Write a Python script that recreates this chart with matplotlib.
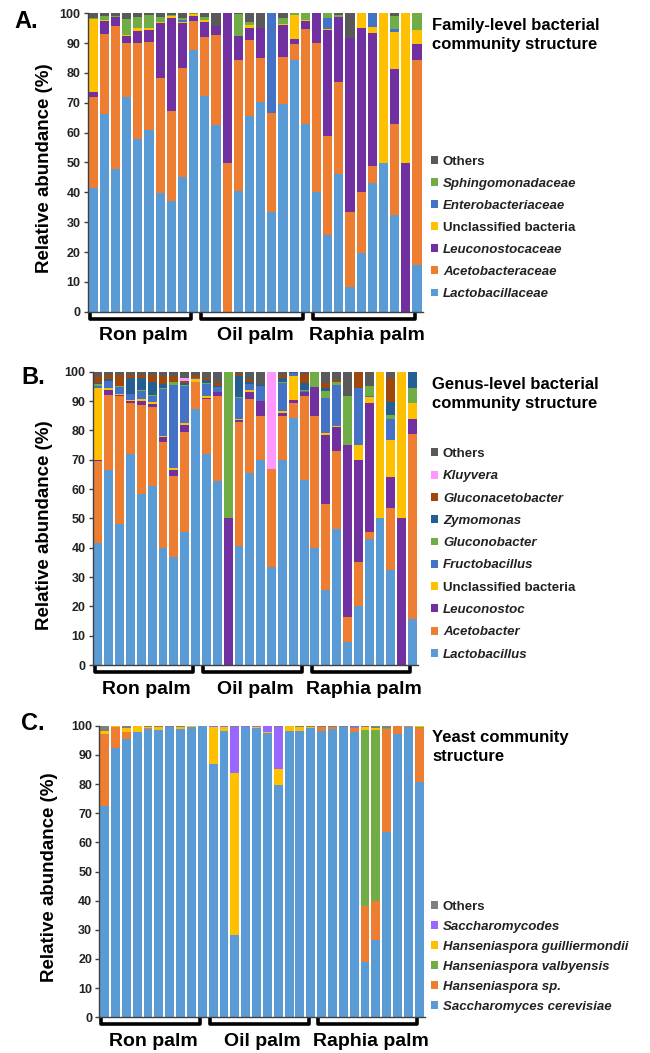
import numpy as np
import matplotlib
matplotlib.use("Agg")
import matplotlib.pyplot as plt
import matplotlib.transforms as mtransforms
from matplotlib.patches import Patch

plt.rcParams['font.family'] = ['Liberation Sans', 'DejaVu Sans']

W, H = 650, 1053
groups = ['Ron palm', 'Oil palm', 'Raphia palm']
n_bars = 30

# Values are the upper boundary (cumulative %) of each series in every bar.
# A. family level
a_names = ['Lactobacillaceae', 'Acetobacteraceae', 'Leuconostocaceae', 'Unclassified bacteria',
           'Enterobacteriaceae', 'Sphingomonadaceae', 'Others']
a_italic = [True, True, True, False, True, True, False]
a_colors = ['#5B9BD5', '#ED7D31', '#7030A0', '#FFC000', '#4472C4', '#70AD47', '#595959']
a_lacto = [41.5, 66.3, 47.7, 72, 58, 61, 39.7, 37, 45.3, 87.6, 72.3, 62.7, 0, 40.5, 65.5,
           70.2, 33.3, 69.7, 84.3, 63, 40, 25.6, 46.3, 8.2, 19.8, 43, 50, 32.3, 0, 15.6]
a_aceto = [72, 93, 95.8, 90, 90, 90.5, 78.3, 67.4, 81.6, 97.3, 92, 92.6, 50, 84.2, 91.2,
           85, 66.5, 85.5, 89.7, 94.9, 90, 58.8, 77, 33.3, 40, 48.8, 50, 63, 0, 84.3]
a_leuco = [73.5, 97.3, 98.8, 92.4, 94, 94.5, 96.6, 98.3, 96.8, 99, 97, 95.7, 100, 92.4, 95.2,
           95.2, 66.5, 96, 91.3, 97.5, 100, 94.4, 98.8, 91.6, 95, 93.5, 50, 81.2, 50, 89.6]
a_uncl = [98, 97.8, 98.8, 92.8, 95, 95, 97.2, 99, 97.2, 99.6, 97.6, 95.7, 100, 92.4, 96,
          95.2, 66.5, 96.5, 99.5, 97.7, 100, 94.8, 98.8, 91.6, 100, 95.5, 100, 93.8, 100, 94.5]
a_entero = [98, 97.8, 98.8, 92.8, 95, 95, 97.2, 99, 97.9, 99.6, 97.6, 95.7, 100, 92.4, 96,
            95.2, 100, 96.5, 99.5, 97.7, 100, 98.3, 98.8, 91.6, 100, 100, 100, 94.6, 100, 94.5]
a_sphingo = [98.5, 99, 99.2, 98, 98.7, 99.3, 98.6, 99.3, 98.3, 100, 98.6, 95.7, 100, 99.6, 97,
             95.2, 100, 98.5, 100, 100, 100, 100, 99.4, 91.6, 100, 100, 100, 99.2, 100, 100]
a_others = [100] * n_bars

# B. genus level
b_names = ['Lactobacillus', 'Acetobacter', 'Leuconostoc', 'Unclassified bacteria', 'Fructobacillus',
           'Gluconobacter', 'Zymomonas', 'Gluconacetobacter', 'Kluyvera', 'Others']
b_italic = [True, True, True, False, True, True, True, True, True, False]
b_colors = ['#5B9BD5', '#ED7D31', '#7030A0', '#FFC000', '#4472C4', '#70AD47', '#255E91',
            '#9E480E', '#FF99FF', '#595959']
b_lacto = [41.5, 66.4, 48, 72, 58.2, 61, 40, 36.7, 45.4, 87.3, 72, 62.6, 0, 40.5, 65.5,
           70, 33.3, 69.8, 84.2, 63, 40, 25.7, 46.2, 8, 20, 43, 50, 32.3, 0, 15.6]
b_aceto = [69.5, 92.2, 91.6, 89.3, 88.5, 87.8, 76, 64.5, 79.6, 96.6, 90.6, 91.8, 0, 82.7, 90.6,
           85, 66.7, 85, 89.3, 91.6, 85, 55, 72.8, 16.5, 35, 45.4, 50, 53.4, 0, 78.8]
b_leuco = [70, 93.8, 92, 90, 90, 89, 77.6, 66.5, 81.9, 96.6, 91, 93.2, 50, 83.6, 93,
           90, 66.7, 86, 90.5, 93.2, 94.8, 78.4, 81, 75, 70, 89.3, 50, 64.2, 50, 84]
b_uncl = [94.3, 94.5, 92.5, 90.3, 90.6, 89.6, 78.2, 67, 82.4, 97.4, 91.8, 93.2, 50, 84, 93.8,
          90, 66.7, 86.5, 98.7, 93.2, 94.8, 79, 81.5, 75, 75, 91.5, 100, 76.7, 100, 89.3]
b_fructo = [95, 96.8, 94.8, 92.5, 93.5, 91.7, 94, 95.3, 95, 98, 95.8, 94.8, 50, 91, 95.7,
            95, 66.7, 96.2, 99.6, 93.5, 94.8, 91, 95.3, 75, 94.6, 91.8, 100, 84, 100, 89.3]
b_glucono = [95.7, 96.8, 95, 92.5, 93.8, 92, 94.3, 96.4, 95.4, 98, 96.2, 94.8, 100, 91.4, 95.7,
             95, 66.7, 96.5, 99.6, 93.8, 100, 93.3, 96.6, 91.8, 94.6, 95.2, 100, 85.3, 100, 94.3]
b_zymo = [96, 97.5, 95, 97.8, 97.7, 96.5, 95.8, 96.4, 96, 98, 97, 95.2, 100, 98.4, 96.5,
          95.3, 66.7, 98, 99.6, 96.2, 100, 94.3, 96.6, 91.8, 94.6, 95.2, 100, 89.6, 100, 100]
b_gluconaceto = [98.5, 98.8, 99, 98.8, 99, 99, 98.5, 98.6, 96.8, 99, 98, 96, 100, 99.3, 97,
                 95.3, 66.7, 99, 99.6, 99.3, 100, 96, 97.3, 91.8, 100, 95.2, 100, 98, 100, 100]
b_kluyvera = [98.5, 98.8, 99, 98.8, 99, 99, 98.5, 98.6, 97.8, 99, 98, 96, 100, 99.3, 97,
              95.3, 100, 99, 99.6, 99.3, 100, 96, 97.3, 91.8, 100, 95.2, 100, 98, 100, 100]
b_others = [100] * n_bars

# C. yeast
c_names = ['Saccharomyces cerevisiae', 'Hanseniaspora sp.', 'Hanseniaspora valbyensis',
           'Hanseniaspora guilliermondii', 'Saccharomycodes', 'Others']
c_italic = [True, True, True, True, True, False]
c_colors = ['#5B9BD5', '#ED7D31', '#70AD47', '#FFC000', '#9966FF', '#7F7F7F']
c_scer = [72.3, 92.3, 95.3, 98, 98.7, 98.6, 99.5, 99, 99.4, 99.8, 86.8, 98.2, 28.3, 99.7, 99.1,
          97.4, 79.8, 98.2, 98.3, 99.3, 98.2, 98.9, 99.5, 98, 19.1, 26.5, 63.6, 97.3, 99.4, 80.7]
c_hsp = [97, 99.6, 98, 98, 99.3, 98.6, 99.5, 99, 99.4, 99.8, 86.8, 98.2, 28.3, 99.7, 99.1,
         97.4, 79.8, 98.2, 98.3, 99.3, 99.6, 99.7, 99.7, 99.2, 38.3, 39.9, 98.8, 99.8, 100, 99.3]
c_hval = [97, 99.6, 98, 98, 99.3, 98.6, 99.5, 99, 99.4, 99.8, 86.8, 98.2, 28.3, 99.7, 99.1,
          97.4, 79.8, 98.2, 98.3, 99.3, 99.6, 99.7, 99.7, 99.2, 98.5, 98.6, 99.3, 99.8, 100, 99.6]
c_hguil = [98.3, 99.8, 99.3, 99.8, 99.6, 99.6, 99.7, 99.6, 99.8, 99.8, 99.6, 99.6, 83.8, 99.7, 99.4,
           98, 85, 99.8, 99.7, 99.6, 99.6, 99.7, 99.7, 99.2, 99.5, 99.3, 99.3, 99.8, 100, 99.8]
c_scodes = [98.3, 99.8, 99.3, 99.8, 99.6, 99.6, 99.7, 99.6, 99.8, 99.8, 100, 100, 99.7, 100, 100,
            100, 99.7, 100, 99.7, 99.6, 99.6, 99.7, 99.7, 99.7, 99.5, 99.3, 99.3, 99.8, 100, 99.8]
c_others = [100] * n_bars


fig = plt.figure(figsize=(W / 100, H / 100), dpi=100)


def px_axes(l, t, r, b):
    return fig.add_axes([l / W, 1 - b / H, (r - l) / W, (b - t) / H])


def draw_panel(ax, tops, colors, names, italic, letter, letter_xy, title, title_y,
               legend_top, legend_space, ylabel_xy):
    x = np.arange(n_bars)
    prev = np.zeros(n_bars)
    for top, c in zip(tops, colors):
        top = np.asarray(top, dtype=float)
        ax.bar(x, top - prev, bottom=prev, width=0.82, color=c, linewidth=0)
        prev = top
    ax.set_xlim(-0.5, n_bars - 0.5)
    ax.set_ylim(0, 100)
    ax.set_yticks(range(0, 101, 10))
    ax.set_xticks([])
    for s in ['top', 'right']:
        ax.spines[s].set_visible(False)
    for s in ['left', 'bottom']:
        ax.spines[s].set_color('#404040')
        ax.spines[s].set_linewidth(1.0)
    ax.tick_params(axis='y', length=3, width=1, color='#404040', pad=2,
                   labelsize=9, labelcolor='#222222')
    for t in ax.get_yticklabels():
        t.set_fontweight('bold')

    # group brackets and labels below the bars
    bb = ax.get_position()
    ax_h = bb.height * H
    trans = mtransforms.blended_transform_factory(ax.transData, ax.transAxes)
    dh = 7 / ax_h
    for g, name in enumerate(groups):
        i0, i1 = g * 10, g * 10 + 9
        x0, x1 = i0 - 0.3, i1 - 0.2
        ax.plot([x0, x0, x1, x1], [0, -dh, -dh, 0], color='black', lw=2.6,
                transform=trans, clip_on=False, solid_joinstyle='round',
                solid_capstyle='butt')
        ax.text((i0 + i1) / 2, -24 / ax_h, name, transform=trans, ha='center',
                va='center', fontsize=14, fontweight='bold')

    fig.text(letter_xy[0] / W, 1 - letter_xy[1] / H, letter, fontsize=17,
             fontweight='bold', va='center', ha='left')
    fig.text(ylabel_xy[0] / W, 1 - ylabel_xy[1] / H, 'Relative abundance (%)',
             rotation=90, ha='center', va='center', fontsize=13.5, fontweight='bold')
    fig.text(432 / W, 1 - title_y / H, title, fontsize=12, fontweight='bold',
             ha='left', va='center', linespacing=1.4)

    handles = [Patch(facecolor=c, edgecolor='none') for c in colors][::-1]
    leg = fig.legend(handles, names[::-1], loc='upper left',
                     bbox_to_anchor=(431 / W, 1 - legend_top / H), frameon=False,
                     handlelength=0.55, handleheight=0.55, handletextpad=0.35,
                     labelspacing=legend_space, borderpad=0, borderaxespad=0,
                     prop={'weight': 'bold', 'size': 9.5})
    for t, it in zip(leg.get_texts(), italic[::-1]):
        if it:
            t.set_fontstyle('italic')
        t.set_color('#222222')


ax_a = px_axes(87.5, 13.3, 422.6, 311.7)
draw_panel(ax_a, [a_lacto, a_aceto, a_leuco, a_uncl, a_entero, a_sphingo, a_others],
           a_colors, a_names, a_italic, 'A.', (14, 21.5),
           'Family-level bacterial\ncommunity structure', 35, 156, 0.76, (45, 168))

ax_b = px_axes(92.5, 371.7, 418, 665)
draw_panel(ax_b, [b_lacto, b_aceto, b_leuco, b_uncl, b_fructo, b_glucono, b_zymo,
                  b_gluconaceto, b_kluyvera, b_others],
           b_colors, b_names, b_italic, 'B.', (21, 377),
           'Genus-level bacterial\ncommunity structure', 394, 448, 0.78, (45, 525))

ax_c = px_axes(99.2, 725.7, 424.7, 1017.3)
draw_panel(ax_c, [c_scer, c_hsp, c_hval, c_hguil, c_scodes, c_others],
           c_colors, c_names, c_italic, 'C.', (21, 724),
           'Yeast community\nstructure', 747, 901, 0.6, (50, 877))

fig.savefig('out.png', dpi=100)
